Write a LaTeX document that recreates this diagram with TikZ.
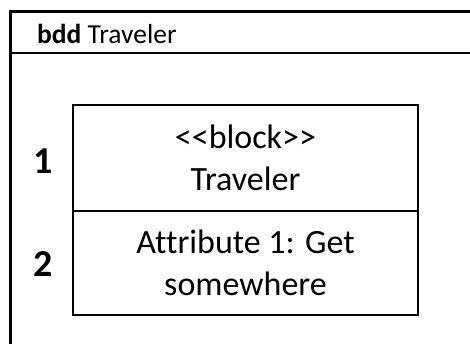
\documentclass[tikz,border=0pt]{standalone}
\usepackage{fontspec}
\setmainfont{Carlito}[Ligatures={NoCommon}]
\usetikzlibrary{positioning}

\tikzset{
  compartment/.style={draw,line width=2.4pt,minimum width=345pt,align=center,
    inner sep=0pt,outer sep=0pt,font=\fontsize{34}{42}\selectfont},
  num/.style={font=\fontsize{38}{40}\selectfont\bfseries,inner sep=0pt}
}

\begin{document}
\begin{tikzpicture}[x=1pt,y=-1pt]
  \useasboundingbox (0,0) rectangle (470,344);
  % diagram frame, runs past the right and lower edge
  \draw[line width=2.8pt] (10.5,344) -- (10.5,11.5) -- (470,11.5);
  \draw[line width=2pt] (10.5,53) -- (470,53);
  \node[anchor=base west,font=\fontsize{27.5}{30}\selectfont,inner sep=0pt] (title)
    at (37,44) {\textbf{bdd} Traveler};
  % the block
  \node[compartment,minimum height=106pt] (head) at (245.5,158)
    {<\kern0pt<block>\kern0pt>\\Traveler};
  \node[compartment,minimum height=104pt,below=0pt of head] (attr)
    {Attribute 1: Get\\somewhere};
  \node[num] (n1) at (43,161) {1};
  \node[num] (n2) at (43,264) {2};
\end{tikzpicture}
\end{document}
